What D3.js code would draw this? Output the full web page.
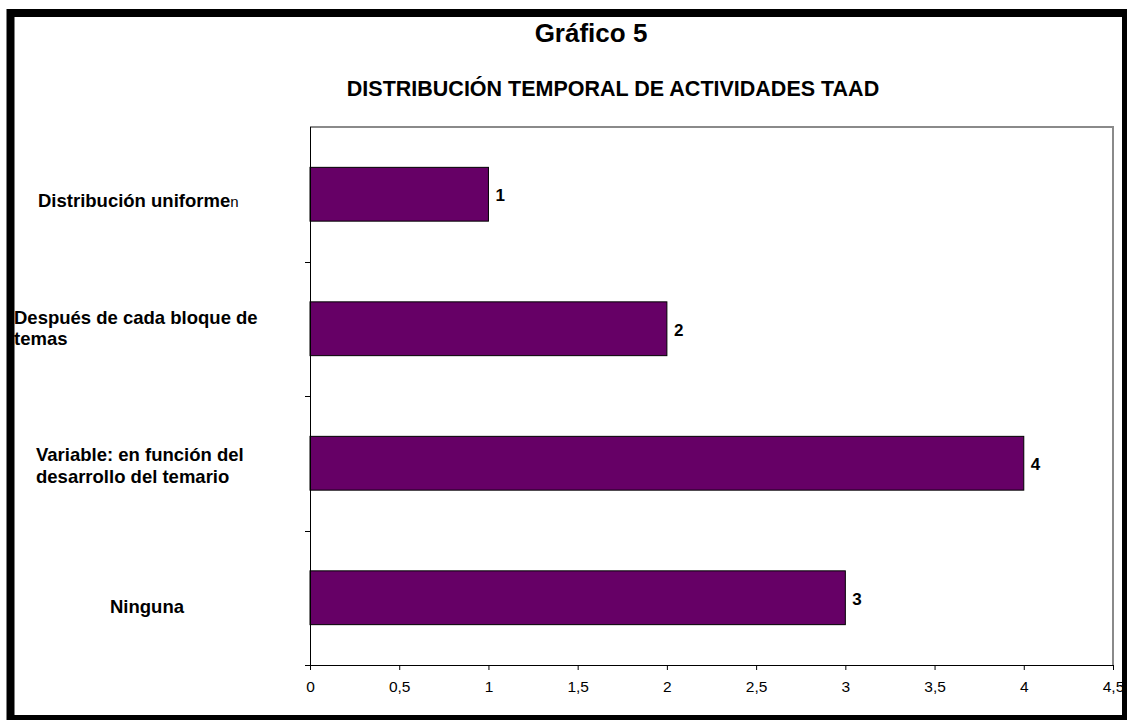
<!DOCTYPE html>
<html><head><meta charset="utf-8">
<script src="https://cdn.jsdelivr.net/npm/d3@7"></script>
<style>html,body{margin:0;padding:0;background:#fff}svg{display:block;font-family:"Liberation Sans",Arial,sans-serif}</style>
</head><body>
<svg id="c" width="1127" height="720"></svg>
<script>
const categories = ["Distribución uniforme", "Después de cada bloque de temas", "Variable: en función del desarrollo del temario", "Ninguna"];
const values = [1, 2, 4, 3];
const xTicks = [0, 0.5, 1, 1.5, 2, 2.5, 3, 3.5, 4, 4.5];
const title = "Gráfico 5";
const subtitle = "DISTRIBUCIÓN TEMPORAL DE ACTIVIDADES TAAD";

// label line layout (presentation only)
const labelLines = [
  [{t:"Distribución uniforme", extra:"n", x:38, dy:13}],
  [{t:"Después de cada bloque de", x:14, dy:-5}, {t:"temas", x:14, dy:16}],
  [{t:"Variable: en función del", x:36, dy:-2}, {t:"desarrollo del temario", x:36, dy:20}],
  [{t:"Ninguna", x:147, dy:15, anchor:"middle"}]
];

const svg = d3.select("#c");
const m = {left:310, right:1113, top:127, bottom:665};

svg.append("text").attr("x",591).attr("y",42).attr("text-anchor","middle")
  .attr("font-size",26).attr("font-weight","bold").text(title);
svg.append("text").attr("x",613).attr("y",96).attr("text-anchor","middle")
  .attr("font-size",21.5).attr("font-weight","bold").text(subtitle);

const x = d3.scaleLinear().domain([0,4.5]).range([m.left,m.right]);
const y = d3.scaleBand().domain(categories).range([m.top,m.bottom]).paddingInner(0.6).paddingOuter(0.3);

// plot area border (top/right grey)
svg.append("path").attr("d",`M${m.left},${m.top}H${m.right}V${m.bottom}`)
  .attr("fill","none").attr("stroke","#8a8a8a").attr("stroke-width",2);

// bars
svg.selectAll("rect.bar").data(values).enter().append("rect").attr("class","bar")
  .attr("x",x(0)).attr("y",(d,i)=>y(categories[i]))
  .attr("width",d=>x(d)-x(0)).attr("height",y.bandwidth())
  .attr("fill","#660066").attr("stroke","#000").attr("stroke-width",1);

// value labels
svg.selectAll("text.val").data(values).enter().append("text").attr("class","val")
  .attr("x",d=>x(d)+7).attr("y",(d,i)=>y(categories[i])+y.bandwidth()/2+7)
  .attr("font-size",17).attr("font-weight","bold").text(d=>d);

// x axis
const xAxis = d3.axisBottom(x).tickValues(xTicks).tickSize(5).tickSizeOuter(0)
  .tickFormat(d=>String(d).replace(".",","));
const gx = svg.append("g").attr("transform",`translate(0,${m.bottom})`).call(xAxis);
gx.select(".domain").attr("stroke","#000").attr("d",`M${m.left-5},0.5H${m.right}`);
gx.selectAll(".tick line").attr("stroke","#000");
gx.selectAll(".tick text").attr("font-size",15.5).attr("font-family","Liberation Sans, Arial, sans-serif")
  .attr("fill","#000").attr("y",27).attr("dy",0);

// y axis line + band ticks
svg.append("line").attr("x1",m.left+0.5).attr("x2",m.left+0.5).attr("y1",m.top).attr("y2",m.bottom).attr("stroke","#000");
const bounds = categories.map(c=>y(c)-y.step()*y.paddingInner()/2).slice(1);
svg.selectAll("line.yt").data(bounds).enter().append("line").attr("class","yt")
  .attr("x1",m.left-5).attr("x2",m.left).attr("y1",d=>Math.round(d)+0.5).attr("y2",d=>Math.round(d)+0.5).attr("stroke","#000");

// category labels
categories.forEach((c,i)=>{
  const cy = y(c)+y.bandwidth()/2;
  labelLines[i].forEach(l=>{
    const t = svg.append("text").attr("x",l.x).attr("y",cy+l.dy)
      .attr("font-size",18.5).attr("font-weight","bold").attr("text-anchor",l.anchor||"start");
    t.append("tspan").text(l.t);
    if (l.extra) t.append("tspan").attr("font-weight","normal").attr("font-size",15).text(l.extra);
  });
});

// outer frame
svg.append("rect").attr("x",10.5).attr("y",13).attr("width",1115.5).attr("height",706)
  .attr("fill","none").attr("stroke","#000").attr("stroke-width",8);
</script>
</body></html>
